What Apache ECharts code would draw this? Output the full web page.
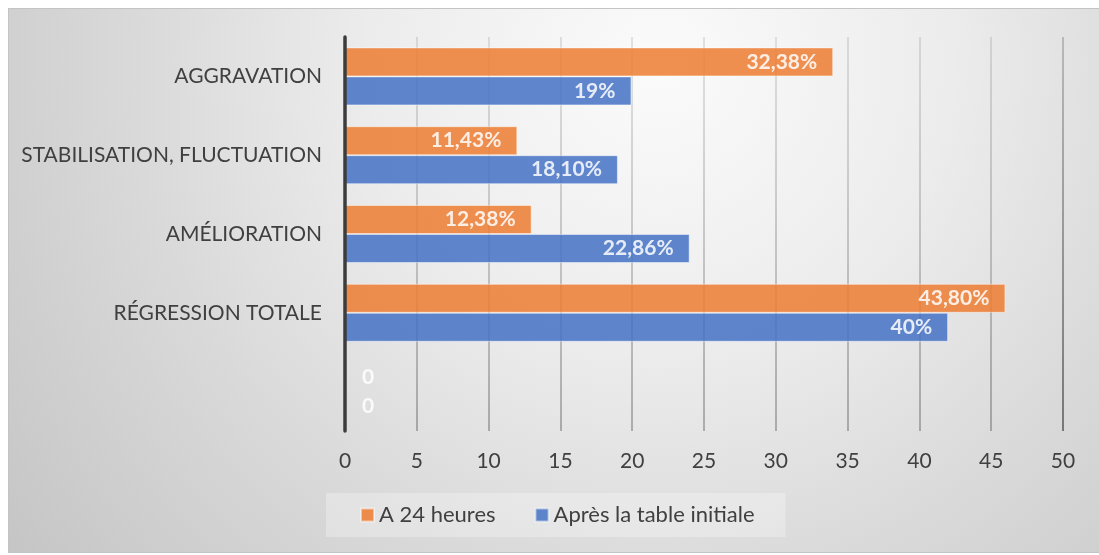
<!DOCTYPE html>
<html>
<head>
<meta charset="utf-8">
<script src="https://cdn.jsdelivr.net/npm/echarts@6/dist/echarts.min.js"></script>
<style>
  html, body { margin: 0; padding: 0; background: #ffffff; }
  #frame {
    position: absolute; left: 8px; top: 8px; width: 1090px; height: 543px;
    border-top: 1px solid #c4c4c4; border-left: 1px solid #c4c4c4; border-bottom: 1px solid #c4c4c4;
    background: radial-gradient(circle 830px at 650px 55px, #fbfbfb 0%, #ececec 35%, #dadada 62%, #c4c4c4 100%);
  }
  #chart { position: absolute; left: 0; top: 0; width: 1099px; height: 555px; }
</style>
</head>
<body>
<div id="frame"></div>
<div id="chart"></div>
<script>
// Outcome categories, listed bottom to top (the first one is an empty row)
const categories = ['', 'RÉGRESSION TOTALE', 'AMÉLIORATION', 'STABILISATION, FLUCTUATION', 'AGGRAVATION'];

// Percentages per outcome
const after24h = [0, 43.80, 12.38, 11.43, 32.38];
const afterInitial = [0, 40, 22.86, 18.10, 19];

// Printed bar labels
const after24hLabels = ['0', '43,80%', '12,38%', '11,43%', '32,38%'];
const afterInitialLabels = ['0', '40%', '22,86%', '18,10%', '19%'];

// Patient count scale shown on the horizontal axis (105 patients = 100 %)
const TOTAL_PATIENTS = 105;
const countTicks = [0, 5, 10, 15, 20, 25, 30, 35, 40, 45, 50];

const seriesNames = ['A 24 heures', 'Après la table initiale'];
const FONT = 'Lato, "Open Sans", sans-serif';

const toPct = n => n * 100 / TOTAL_PATIENTS;
const tickStep = countTicks[1] - countTicks[0];

function makeData(values, labels) {
  return values.map((v, i) => ({
    value: v,
    label: {
      formatter: labels[i],
      position: v === 0 ? 'right' : 'insideRight',
      distance: v === 0 ? 17 : 16
    },
    // empty bars keep no outline so the axis line stays crisp
    itemStyle: v === 0 ? { borderWidth: 0 } : undefined
  }));
}

const chart = echarts.init(document.getElementById('chart'), null, { renderer: 'canvas' });

const barLabel = { show: true, color: '#ffffff', fontSize: 21, fontWeight: 'bold', fontFamily: FONT };

chart.setOption({
  backgroundColor: 'transparent',
  animation: false,
  grid: { left: 345, right: 36, top: 37, bottom: 124, containLabel: false },
  legend: {
    data: seriesNames,
    left: 326, top: 493,
    padding: [11, 31, 11, 34],
    backgroundColor: 'rgba(255,255,255,0.28)',
    itemWidth: 13, itemHeight: 13, itemGap: 39,
    icon: 'rect',
    textStyle: { fontSize: 22, color: '#404040', fontFamily: FONT }
  },
  xAxis: {
    type: 'value',
    min: toPct(countTicks[0]),
    max: toPct(countTicks[countTicks.length - 1]),
    interval: toPct(tickStep),
    axisLine: { show: false },
    axisTick: { show: false },
    axisLabel: {
      fontSize: 21, color: '#404040', fontFamily: FONT, margin: 20,
      formatter: v => String(Math.round(v * TOTAL_PATIENTS / 100))
    },
    splitLine: {
      show: true,
      lineStyle: {
        width: 1.5,
        color: {
          type: 'linear', x: 0, y: 37, x2: 0, y2: 431, global: true,
          colorStops: [
            { offset: 0, color: 'rgba(0,0,0,0.13)' },
            { offset: 1, color: 'rgba(0,0,0,0.34)' }
          ]
        }
      }
    }
  },
  yAxis: {
    type: 'category',
    data: categories,
    z: 5,
    axisLine: { show: true, lineStyle: { color: '#3c3c3c', width: 3.5 } },
    axisTick: { show: false },
    axisLabel: { fontSize: 21, color: '#404040', fontFamily: FONT, margin: 23 },
    splitLine: { show: false }
  },
  series: [
    {
      name: seriesNames[0],
      type: 'bar',
      barWidth: 29,
      barGap: '0%',
      itemStyle: { color: '#ED7D31', opacity: 0.85, borderColor: 'rgba(255,255,255,0.55)', borderWidth: 1 },
      label: barLabel,
      data: makeData(after24h, after24hLabels)
    },
    {
      name: seriesNames[1],
      type: 'bar',
      barWidth: 29,
      barGap: '0%',
      itemStyle: { color: '#4472C4', opacity: 0.85, borderColor: 'rgba(255,255,255,0.55)', borderWidth: 1 },
      label: barLabel,
      data: makeData(afterInitial, afterInitialLabels)
    }
  ]
});
</script>
</body>
</html>
